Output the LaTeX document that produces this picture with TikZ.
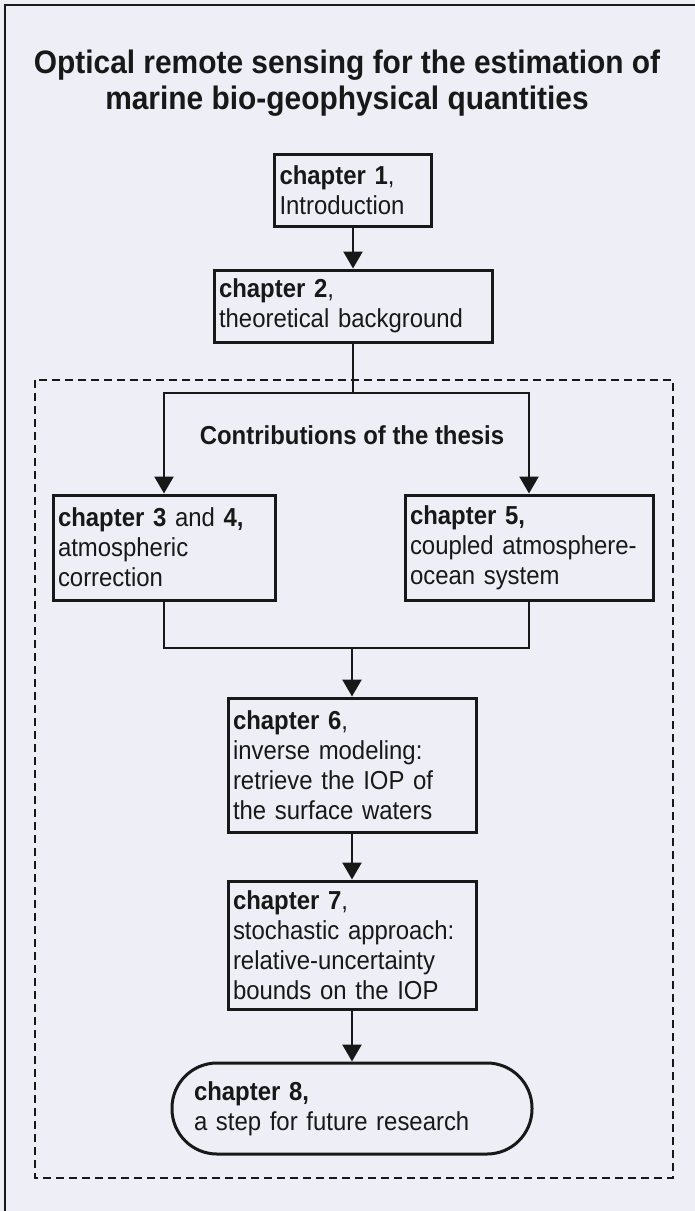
\documentclass[tikz,border=0pt]{standalone}
\usepackage{fontspec}
\setmainfont{Liberation Sans}[FakeStretch=0.92]
\usetikzlibrary{arrows.meta}
\definecolor{paper}{RGB}{238,239,246}
\definecolor{ink}{RGB}{24,24,24}
\tikzset{
  chapbox/.style={draw=ink, line width=3pt, text=ink, align=left, inner xsep=5pt, inner ysep=0pt,
    font=\fontsize{26}{30}\selectfont, anchor=center},
  link/.style={draw=ink, line width=2.5pt},
  arr/.style={link, -{Triangle[length=17pt,width=19pt]}},
  heading/.style={text=ink, inner sep=0pt, font=\bfseries\fontsize{32.5}{36}\selectfont, anchor=base},
}
\begin{document}
\begin{tikzpicture}[x=1pt, y=-1pt]
  % page
  \fill[paper] (0,0) rectangle (695,1211);
  \useasboundingbox (0,0) rectangle (695,1211);
  % outer frame (top and left edges)
  \draw[ink, line width=2.4pt] (5,1211) -- (5,5) -- (695,5);

  % title
  \node[heading] (t1) at (347,73) {Optical remote sensing for the estimation of};
  \node[heading] (t2) at (347,109) {marine bio-geophysical quantities};

  % frame around the thesis contributions
  \draw[ink, line width=2.2pt, dash pattern=on 8pt off 5pt] (35,380) rectangle (673,1178);
  \node[heading, font=\bfseries\fontsize{26}{30}\selectfont, anchor=center] (contrib) at (352,435) {Contributions of the thesis};

  % chapters
  \node[chapbox, minimum width=157pt, minimum height=72pt, text width=147pt] (c1) at (353,190)
    {\textbf{chapter 1},\\Introduction};
  \node[chapbox, minimum width=278pt, minimum height=72pt, text width=268pt] (c2) at (353,306)
    {\textbf{chapter 2},\\theoretical background};
  \node[chapbox, minimum width=222pt, minimum height=105pt, text width=212pt] (c3) at (164,547.5)
    {\textbf{chapter 3} and \textbf{4,}\\atmospheric\\correction};
  \node[chapbox, minimum width=248pt, minimum height=105pt, text width=238pt] (c5) at (529,547.5)
    {\textbf{chapter 5,}\\coupled atmosphere-\\ocean system};
  \node[chapbox, minimum width=248pt, minimum height=134pt, text width=238pt] (c6) at (352,765)
    {\textbf{chapter 6},\\inverse modeling:\\retrieve the IOP of\\the surface waters};
  \node[chapbox, minimum width=248pt, minimum height=128pt, text width=238pt] (c7) at (352,945)
    {\textbf{chapter 7},\\stochastic approach:\\relative-uncertainty\\bounds on the IOP};
  \node[chapbox, rounded corners=45pt, inner xsep=22pt, minimum width=360pt, minimum height=91pt,
        text width=316pt] (c8) at (352,1108.5)
    {\textbf{chapter 8,}\\a step for future research};

  % connectors
  \coordinate (split) at (353,393);
  \coordinate (merge) at (352,648);
  \draw[arr] (c1) -- (c2);
  \draw[link] (c2.south) -- (split);
  \draw[arr] (split) -| (c3.north);
  \draw[arr] (split) -| (c5.north);
  \draw[link] (c3.south) |- (merge);
  \draw[link] (c5.south) |- (merge);
  \draw[arr] (merge) -- (c6.north);
  \draw[arr] (c6) -- (c7);
  \draw[arr] (c7) -- (c8);
\end{tikzpicture}
\end{document}
